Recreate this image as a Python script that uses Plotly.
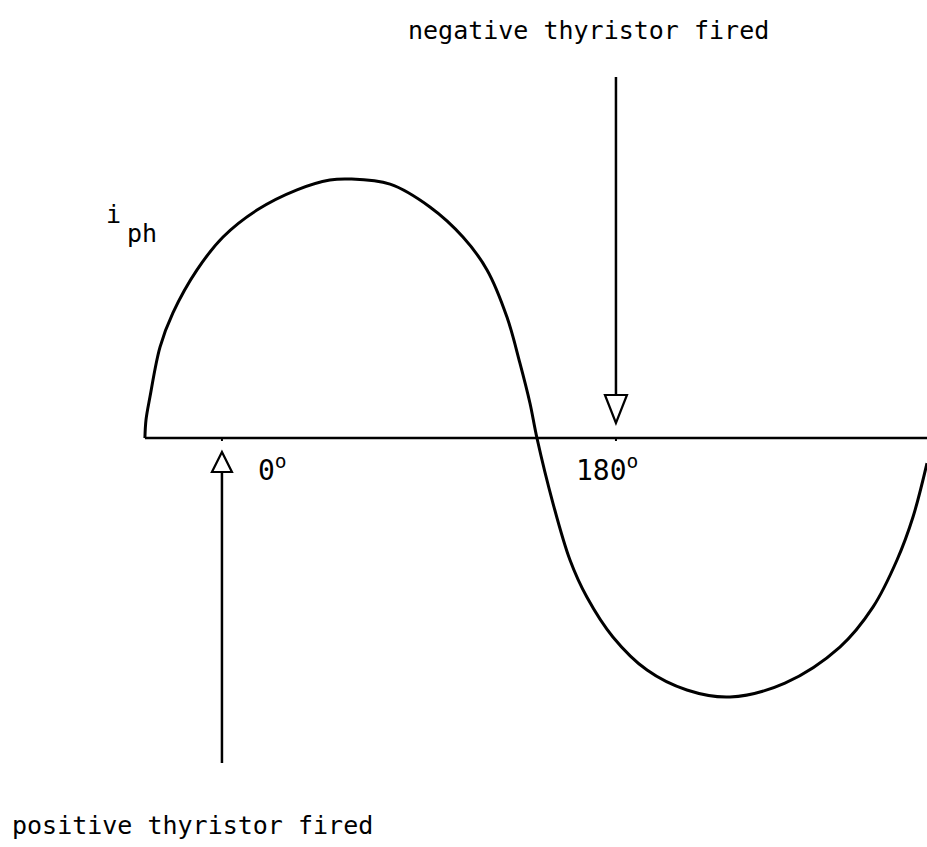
import plotly.graph_objects as go

W, H = 927, 847
X_RANGE = [-101.4, 322.1]   # firing angle axis, degrees
Y_RANGE = [-1.579, 1.691]   # phase current, per unit of peak

# phase current waveform
angle_deg = [-35.2, -34.7, -32.9, -28.3, -22.4, -11.4, 0.5, 16.0, 34.3, 49.3, 58.5,
             76.8, 95.0, 110.1, 121.1, 130.2, 136.1, 140.7, 143.9, 151.2, 159.0,
             166.7, 178.6, 194.2, 212.4, 232.1, 257.2, 282.3, 297.4, 308.4, 315.7, 322.1]
i_ph = [0.0, 0.07, 0.158, 0.351, 0.483, 0.649, 0.776, 0.880, 0.958, 0.996, 1.0,
        0.980, 0.892, 0.776, 0.649, 0.467, 0.290, 0.135, 0.0, -0.251, -0.471,
        -0.614, -0.768, -0.896, -0.973, -1.0, -0.946, -0.807, -0.653, -0.471, -0.305, -0.097]

firing_angles = [0, 180]
firing_labels = ["0<sup>o</sup>", "180<sup>o</sup>"]
firing_texts = ["positive thyristor fired", "negative thyristor fired"]

FONT = "DejaVu Sans Mono"
px_x = W / (X_RANGE[1] - X_RANGE[0])
px_y = H / (Y_RANGE[1] - Y_RANGE[0])


def dx(p):
    return p / px_x


def dy(p):
    return p / px_y


def paper(xp, yp):
    return xp / W, 1 - yp / H


fig = go.Figure()

# horizontal axis line
fig.add_trace(go.Scatter(x=[angle_deg[0], X_RANGE[1]], y=[0, 0], mode="lines",
                         line=dict(color="black", width=2.5), hoverinfo="skip"))
# waveform
fig.add_trace(go.Scatter(x=angle_deg, y=i_ph, mode="lines",
                         line=dict(color="black", width=3, shape="spline", smoothing=1.0),
                         hoverinfo="skip"))

shapes = []
# arrows: positive (up, below axis) and negative (down, above axis)
arrow_spec = [
    # angle, direction, tip offset, head len, half width, shaft len (pixels)
    (firing_angles[0], 1, 14, 20, 10, 291),
    (firing_angles[1], -1, 15, 28, 11, 318),
]
for ang, d, tip, head, hw, shaft in arrow_spec:
    s = -1 if d == 1 else 1  # side of axis (-1 below, +1 above)
    y_tip = s * dy(tip)
    y_base = s * dy(tip + head)
    y_end = s * dy(tip + head + shaft)
    shapes.append(dict(type="line", xref="x", yref="y", x0=ang, x1=ang, y0=y_base, y1=y_end,
                       line=dict(color="black", width=2.5)))
    path = f"M {ang} {y_tip} L {ang - dx(hw)} {y_base} L {ang + dx(hw)} {y_base} Z"
    shapes.append(dict(type="path", xref="x", yref="y", path=path,
                       fillcolor="white", line=dict(color="black", width=2.2)))
    shapes.append(dict(type="line", xref="x", yref="y", x0=ang, x1=ang, y0=0, y1=-dy(3),
                       line=dict(color="black", width=2)))

annotations = []


def add_text(text, xp, baseline, size=25):
    x, y = paper(xp, baseline + 0.236 * size + 1)
    annotations.append(dict(text=text, x=x, y=y, xref="paper", yref="paper",
                            xanchor="left", yanchor="bottom", showarrow=False,
                            font=dict(family=FONT, size=size, color="black")))


add_text(firing_texts[1], 406, 40)
add_text(firing_texts[0], 10, 835)
add_text("i", 104, 224)
add_text("ph", 125, 243)
add_text(firing_labels[0], 256, 481, size=28)
add_text(firing_labels[1], 574, 481, size=28)

fig.update_layout(
    width=W, height=H, margin=dict(l=0, r=0, t=0, b=0),
    paper_bgcolor="white", plot_bgcolor="white", showlegend=False,
    xaxis=dict(range=X_RANGE, visible=False, fixedrange=True),
    yaxis=dict(range=Y_RANGE, visible=False, fixedrange=True),
    shapes=shapes, annotations=annotations,
)

fig.write_html("out.html", config={"displayModeBar": False},
               post_script="document.body.style.margin='0';document.body.style.padding='0';"
                           "document.body.style.overflow='hidden';")
